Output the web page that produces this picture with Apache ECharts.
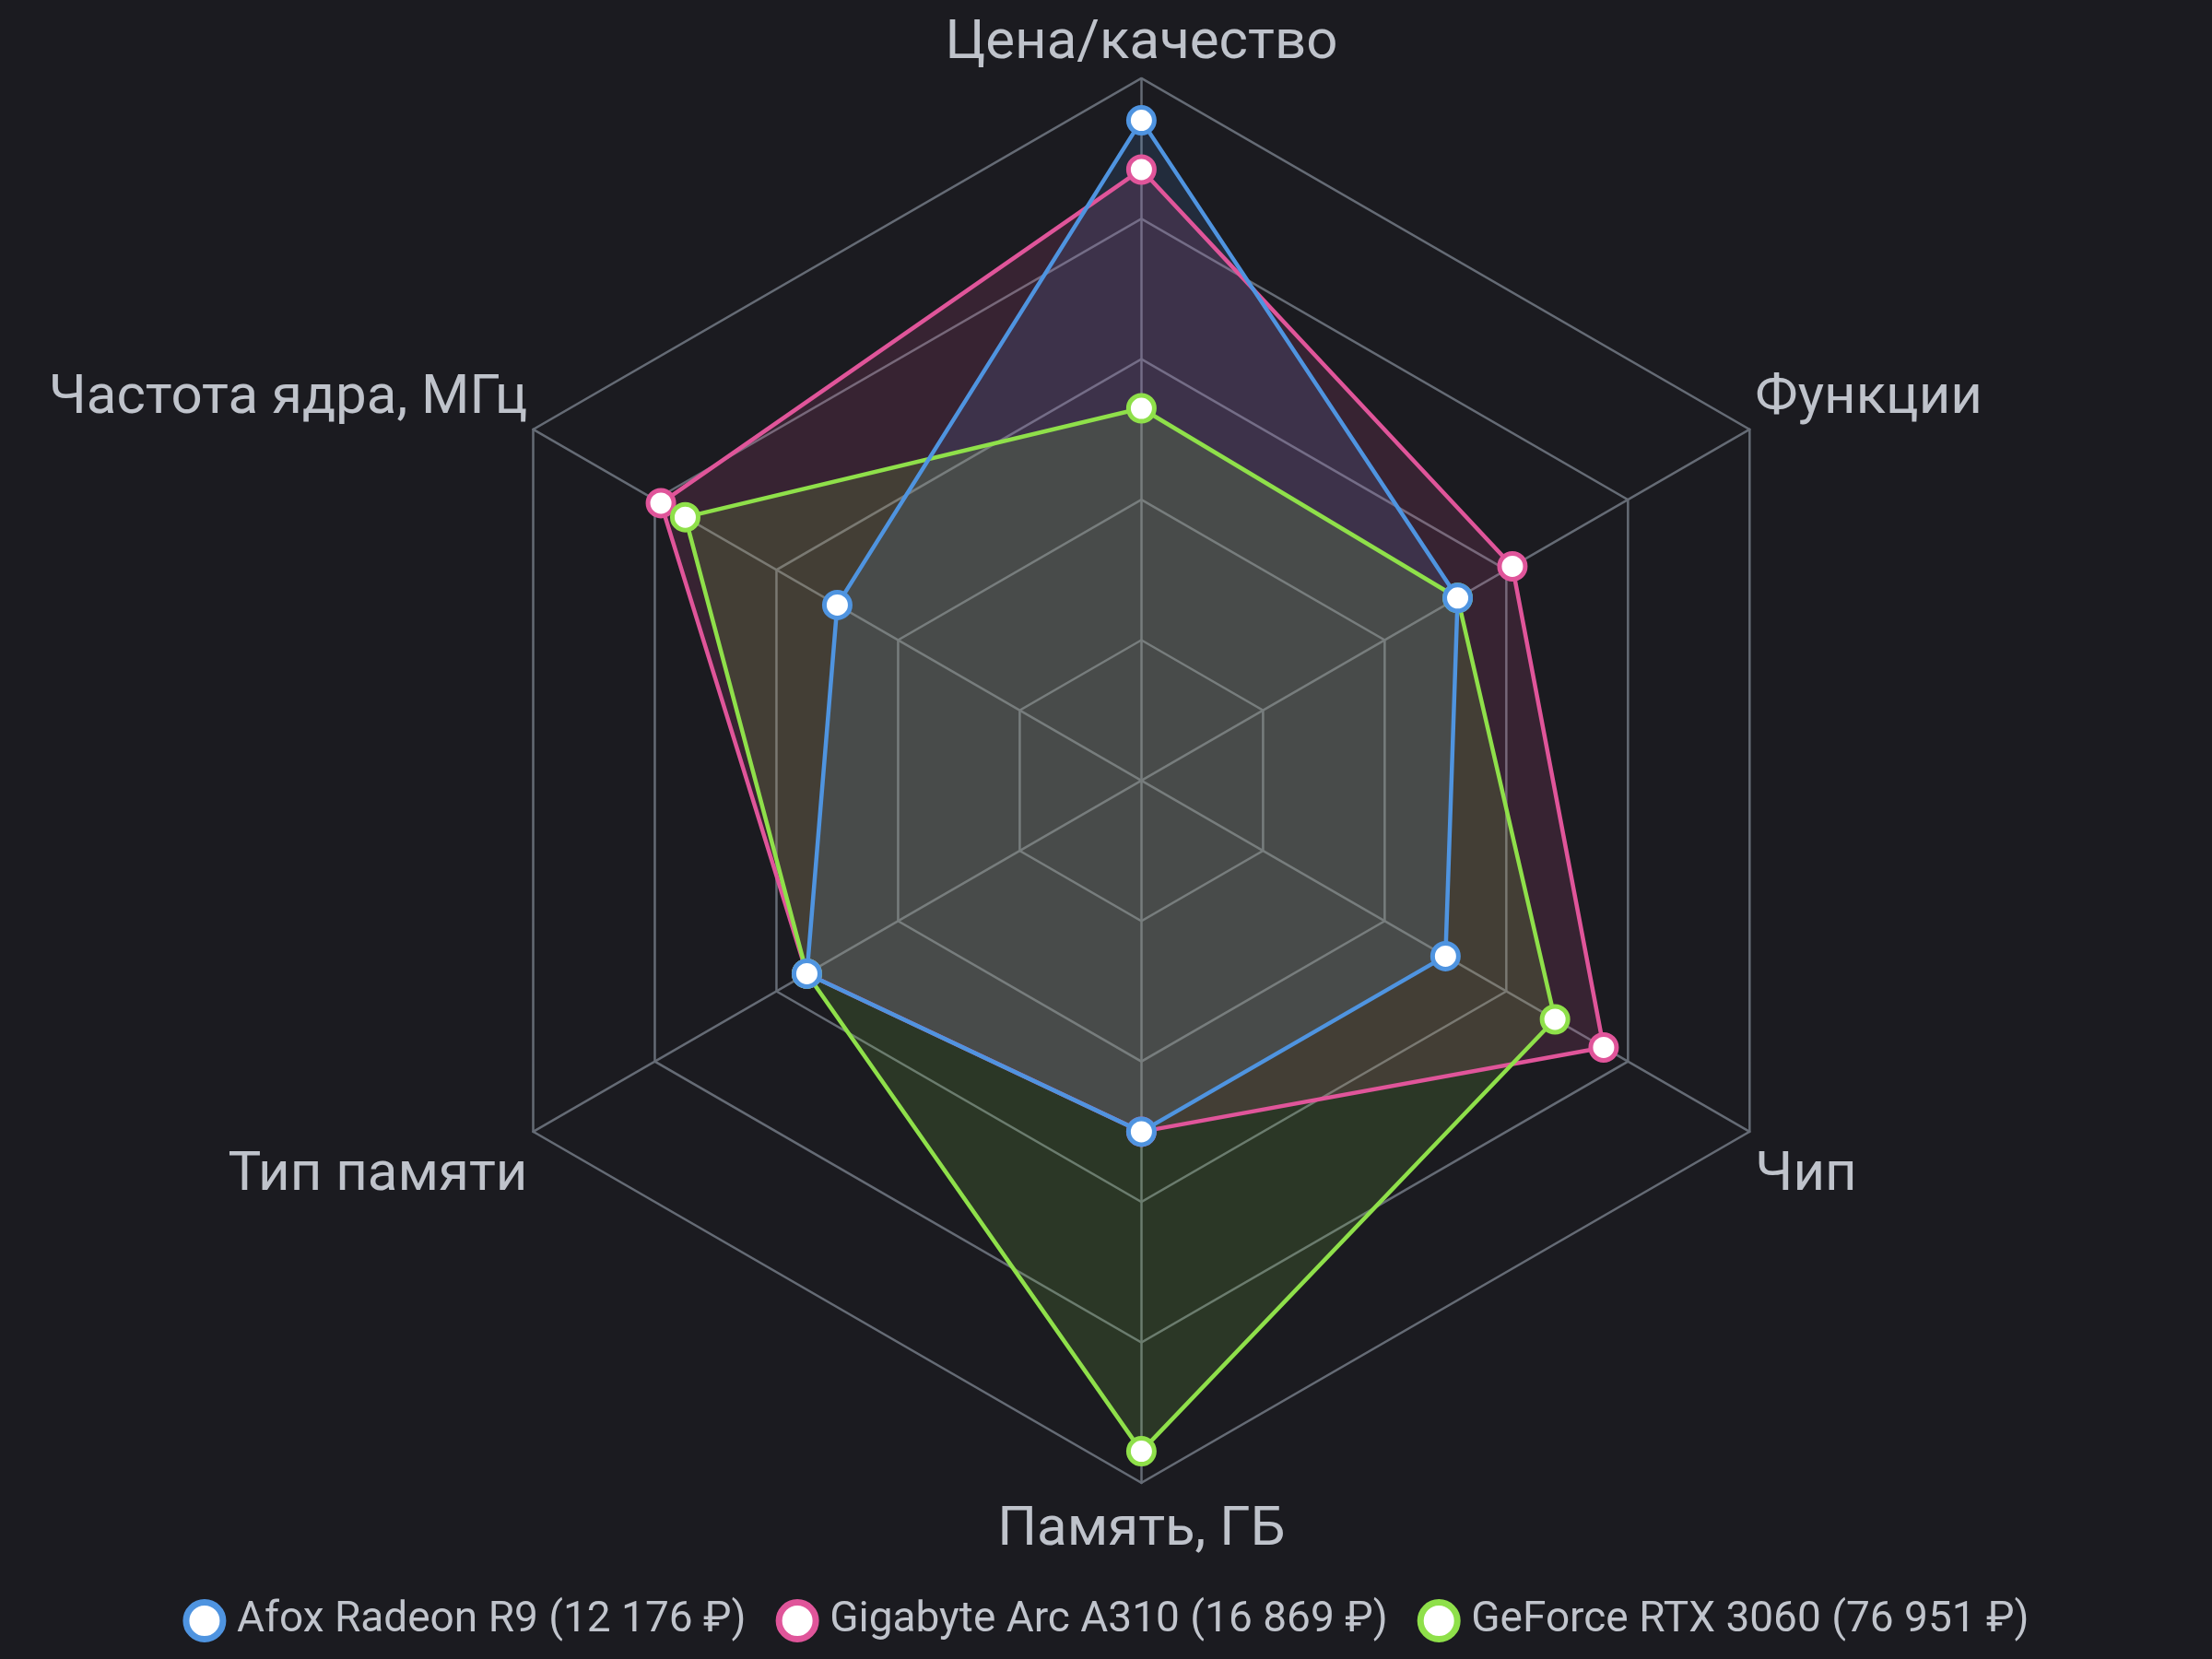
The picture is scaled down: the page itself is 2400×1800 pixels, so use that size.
<!DOCTYPE html>
<html><head><meta charset="utf-8">
<script src="https://cdn.jsdelivr.net/npm/echarts@6/dist/echarts.min.js"></script>
<style>html,body{margin:0;padding:0;background:#1b1b20;}#c{width:2400px;height:1800px;}</style>
</head><body><div id="c"></div>
<script>
const indicators = ['Цена/качество', 'Частота ядра, МГц', 'Тип памяти', 'Память, ГБ', 'Чип', 'Функции'];
const maxValue = 100;
const seriesNames = ['Afox Radeon R9 (12 176 ₽)', 'Gigabyte Arc A310 (16 869 ₽)', 'GeForce RTX 3060 (76 951 ₽)'];
const afox = [94, 50, 55, 50, 50, 52];
const gigabyte = [87, 79, 55, 50, 76, 61];
const geforce = [53, 75, 55, 95.5, 68, 52];
const colors = ['#4f94e0', '#e0559a', '#8fe04a'];
const zOrder = [6, 4, 5];
// label placement style per indicator (top, upper side, lower side, bottom)
const nameStyle = ['top', 'up', 'down', 'bottom', 'down', 'up'];

const values = [afox, gigabyte, geforce];
const FONT = 'Roboto';
const NAME_FS = 60;
const nameRich = {
  top: {fontSize: NAME_FS, color: '#bfc3cb', fontFamily: FONT},
  up: {fontSize: NAME_FS, color: '#bfc3cb', fontFamily: FONT, padding: [0, 0, 58, 0]},
  down: {fontSize: NAME_FS, color: '#bfc3cb', fontFamily: FONT, padding: [90, 0, 0, 0]},
  bottom: {fontSize: NAME_FS, color: '#bfc3cb', fontFamily: FONT, padding: [15, 0, 0, 0]}
};
// area fills drawn first (below all lines and markers)
const areaSeries = seriesNames.map((n, i) => ({
  type: 'radar',
  name: n,
  z: 2,
  symbol: 'none',
  silent: true,
  lineStyle: {width: 0, opacity: 0},
  areaStyle: {color: colors[i], opacity: 0.15},
  data: [{value: values[i], name: n}]
}));
const lineSeries = seriesNames.map((n, i) => ({
  type: 'radar',
  name: n,
  z: zOrder[i],
  symbol: 'circle',
  symbolSize: 28,
  itemStyle: {color: '#ffffff', borderColor: colors[i], borderWidth: 5},
  lineStyle: {color: colors[i], width: 4.5},
  data: [{value: values[i], name: n}]
}));
const chart = echarts.init(document.getElementById('c'), null, {renderer: 'canvas'});
chart.setOption({
  backgroundColor: '#1b1b20',
  animation: false,
  legend: {
    bottom: 13,
    left: 'center',
    itemWidth: 60, itemHeight: 40, itemGap: 32,
    icon: 'circle',
    textStyle: {color: '#c0c4cc', fontSize: 46, fontFamily: FONT},
    data: seriesNames.map((n, i) => ({name: n, itemStyle: {color: '#ffffff', borderColor: colors[i], borderWidth: 7}}))
  },
  radar: {
    center: ['51.6%', '47.05%'],
    radius: 762,
    startAngle: 90,
    splitNumber: 5,
    shape: 'polygon',
    nameGap: 7,
    axisName: {
      color: '#bfc3cb', fontSize: NAME_FS, fontFamily: FONT,
      formatter: (name) => '{' + nameStyle[indicators.indexOf(name)] + '|' + name + '}',
      rich: nameRich
    },
    indicator: indicators.map(n => ({name: n, max: maxValue, min: 0})),
    splitLine: {lineStyle: {color: '#656b75', width: 2.5}},
    axisLine: {lineStyle: {color: '#656b75', width: 2.5}},
    splitArea: {show: false}
  },
  series: areaSeries.concat(lineSeries)
});
</script></body></html>
